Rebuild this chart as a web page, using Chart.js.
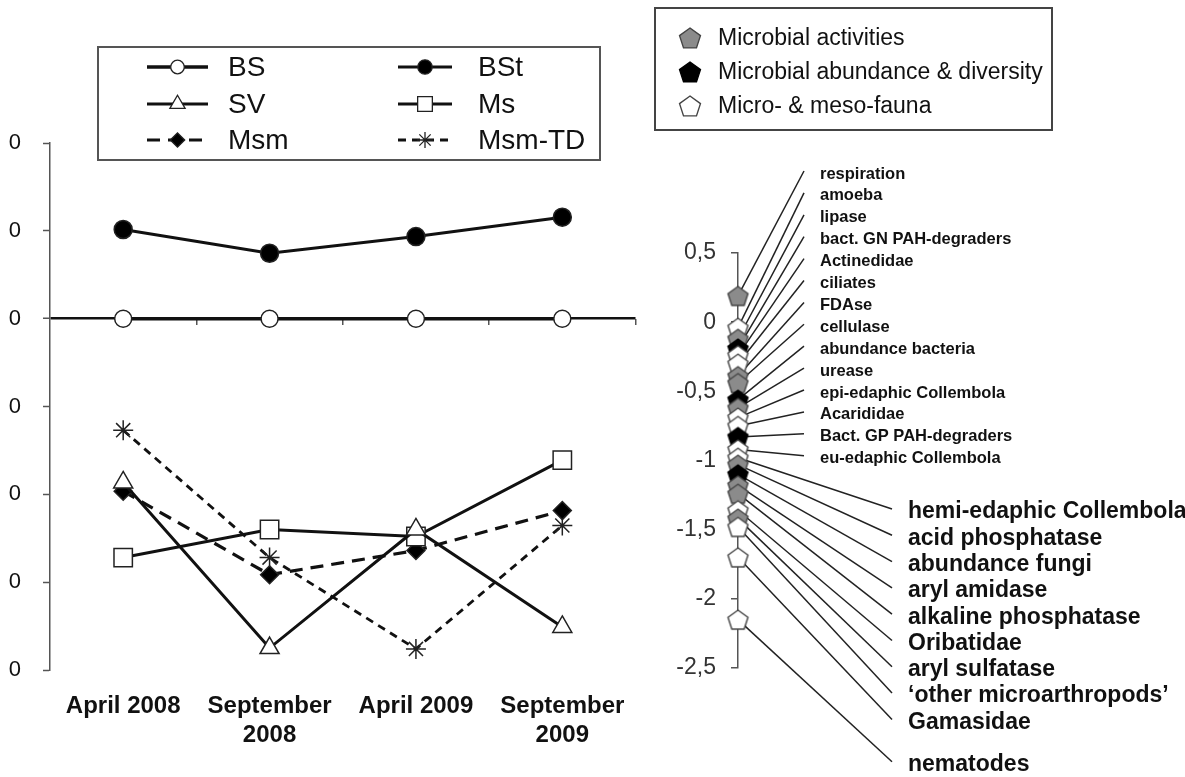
<!DOCTYPE html>
<html>
<head>
<meta charset="utf-8">
<script src="https://cdn.jsdelivr.net/npm/chart.js@4"></script>
<style>
html, body { margin: 0; padding: 0; background: #fff; }
#wrap { position: relative; width: 1185px; height: 777px; overflow: hidden; }
#left { position: absolute; left: 0; top: 0; }
#right { position: absolute; left: 650px; top: 0; }
</style>
</head>
<body>
<div id="wrap">
  <canvas id="left" width="650" height="777"></canvas>
  <canvas id="right" width="535" height="777"></canvas>
</div>
<script>
// left panel: sampling dates and the six treatments
const dates = [['April 2008'], ['September', '2008'], ['April 2009'], ['September', '2009']]
const valuesBS = [0, 0, 0, 0]
const valuesBSt = [20.3, 14.9, 18.7, 23.1]
const valuesSV = [-37.3, -75.0, -48.0, -70.2]
const valuesMs = [-54.4, -48.0, -49.6, -32.2]
const valuesMsm = [-39.3, -58.3, -52.8, -43.7]
const valuesMsmTD = [-25.4, -54.4, -75.2, -47.1]

// right panel: parameters, their value and their group
const groupNames = ['Microbial activities', 'Microbial abundance & diversity', 'Micro- & meso-fauna']
const itemLabels = [
    'respiration', 'amoeba', 'lipase', 'bact. GN PAH-degraders', 'Actinedidae', 'ciliates',
    'FDAse', 'cellulase', 'abundance bacteria', 'urease', 'epi-edaphic Collembola', 'Acarididae',
    'Bact. GP PAH-degraders', 'eu-edaphic Collembola', 'hemi-edaphic Collembola', 'acid phosphatase',
    'abundance fungi', 'aryl amidase', 'alkaline phosphatase', 'Oribatidae', 'aryl sulfatase',
    '\u2018other microarthropods\u2019', 'Gamasidae', 'nematodes'
]
const itemValues = [
    0.19, -0.04, -0.12, -0.19, -0.24, -0.30,
    -0.39, -0.44, -0.56, -0.62, -0.69, -0.75,
    -0.83, -0.92, -0.98, -1.03,
    -1.10, -1.18, -1.24, -1.36, -1.42,
    -1.48, -1.70, -2.15
]
const itemGroups = [
    0, 2, 0, 1, 2, 2,
    0, 0, 1, 0, 2, 2,
    1, 2, 2, 0,
    1, 0, 0, 2, 0,
    2, 2, 2
]

const FONT = 'Liberation Sans, Arial, sans-serif'
Chart.defaults.font.family = FONT
Chart.defaults.color = '#111'

function pentagon(fill, stroke, r) {
    const s = Math.ceil(r * 2 + 4)
    const c = document.createElement('canvas')
    c.width = s
    c.height = s
    const g = c.getContext('2d')
    g.beginPath()
    for (let k = 0; k < 5; k++) {
        const a = -Math.PI / 2 + k * 2 * Math.PI / 5
        const px = s / 2 + r * Math.cos(a)
        const py = s / 2 + 1 + r * Math.sin(a)
        if (k === 0) g.moveTo(px, py)
        else g.lineTo(px, py)
    }
    g.closePath()
    g.fillStyle = fill
    g.fill()
    g.lineWidth = 1.4
    g.strokeStyle = stroke
    g.stroke()
    return c
}
const pentagons = [pentagon('#8b8b8b', '#444', 10.5), pentagon('#000', '#000', 10.5), pentagon('#fff', '#444', 10.5)]
const legendPentagons = [pentagon('#8b8b8b', '#444', 11), pentagon('#000', '#000', 11), pentagon('#fff', '#444', 11)]

// ---------- left chart ----------
const leftLegend = {
    id: 'leftLegend',
    afterDraw(chart) {
        const ctx = chart.ctx
        ctx.save()
        ctx.strokeStyle = '#555'
        ctx.lineWidth = 2
        ctx.strokeRect(98, 47, 502, 113)
        const cols = [{ a: 147, b: 208, t: 228 }, { a: 398, b: 452, t: 478 }]
        const rows = [67, 104, 140]
        chart.data.datasets.forEach((ds, i) => {
            const c = cols[i % 2]
            const y = rows[Math.floor(i / 2)]
            ctx.beginPath()
            ctx.setLineDash(ds.borderDash || [])
            ctx.lineWidth = ds.borderWidth
            ctx.strokeStyle = '#111'
            ctx.moveTo(c.a, y)
            ctx.lineTo(c.b, y)
            ctx.stroke()
            ctx.setLineDash([])
            ctx.fillStyle = ds.pointBackgroundColor
            ctx.strokeStyle = '#222'
            ctx.lineWidth = 1.3
            Chart.helpers.drawPoint(ctx, {
                pointStyle: ds.pointStyle,
                radius: ds.pointRadius * 0.8,
                borderWidth: 1.3,
                rotation: 0
            }, (c.a + c.b) / 2, y)
            ctx.fillStyle = '#111'
            ctx.font = '28px ' + FONT
            ctx.textBaseline = 'middle'
            ctx.fillText(ds.label, c.t, y + 1)
        })
        ctx.restore()
    }
}

function series(label, data, style, radius, fill, dash, width) {
    return {
        label: label,
        data: data,
        borderColor: '#111',
        borderWidth: width,
        borderDash: dash,
        pointStyle: style,
        pointRadius: radius,
        pointHoverRadius: radius,
        pointBackgroundColor: fill,
        pointBorderColor: '#222',
        pointBorderWidth: 1.5,
        fill: false,
        tension: 0,
    }
}

new Chart(document.getElementById('left'), {
    type: 'line',
    data: {
        labels: dates,
        datasets: [
            series('BS', valuesBS, 'circle', 8.5, '#fff', [], 3.5),
            series('BSt', valuesBSt, 'circle', 9, '#000', [], 3),
            series('SV', valuesSV, 'triangle', 11, '#fff', [], 3),
            series('Ms', valuesMs, 'rect', 13, '#fff', [], 3),
            series('Msm', valuesMsm, 'rectRot', 9, '#000', [13, 8], 3.2),
            series('Msm-TD', valuesMsmTD, 'star', 10, '#fff', [8, 6], 2.8),
        ],
    },
    options: {
        responsive: false,
        animation: false,
        layout: { padding: { top: 143, right: 8, left: 0, bottom: 0 } },
        plugins: { legend: { display: false }, tooltip: { enabled: false } },
        scales: {
            x: {
                offset: true,
                grid: { display: false },
                border: { display: false },
                ticks: { font: { size: 24, weight: 'bold' }, color: '#111', padding: 14, maxRotation: 0 },
                afterFit: (scale) => { scale.height = 107 },
            },
            x2: {
                type: 'category',
                position: { y: 0 },
                offset: true,
                grid: {
                    offset: true,
                    drawOnChartArea: false,
                    tickLength: 6,
                    lineWidth: 1.5,
                    color: (c) => (c.index === 0 || c.index >= 4) ? 'rgba(0,0,0,0)' : '#555',
                },
                border: { display: false },
                ticks: { display: false },
            },
            y: {
                min: -80,
                max: 40,
                ticks: {
                    stepSize: 20,
                    padding: 22,
                    font: { size: 22 },
                    color: '#111',
                    callback: (v) => String(v).slice(-1),
                },
                grid: {
                    tickLength: 7,
                    tickColor: '#555',
                    tickWidth: 1.5,
                    color: (c) => c.tick && c.tick.value === 0 ? '#111' : 'rgba(0,0,0,0)',
                    lineWidth: (c) => c.tick && c.tick.value === 0 ? 2.5 : 1,
                },
                border: { display: true, color: '#555', width: 1.5 },
                afterFit: (scale) => { scale.width = 50 },
            },
        },
    },
    plugins: [leftLegend],
})

// ---------- right chart ----------
function labelPos(i) {
    if (i < 14) return { x: 170, y: 174 + i * 21.9, big: false }
    const k = i - 14
    return { x: 258, y: 512 + k * 26.3 + (k === 9 ? 16 : 0), big: true }
}

const rightDecor = {
    id: 'rightDecor',
    beforeDatasetsDraw(chart) {
        const ctx = chart.ctx
        const ys = chart.scales.y
        const xs = chart.scales.x
        ctx.save()
        ctx.strokeStyle = '#222'
        ctx.lineWidth = 1.5
        itemLabels.forEach((lab, i) => {
            const p = labelPos(i)
            ctx.beginPath()
            ctx.moveTo(xs.getPixelForValue(0), ys.getPixelForValue(itemValues[i]))
            ctx.lineTo(p.x - 16, p.y - 3)
            ctx.stroke()
        })
        ctx.restore()
    },
    afterDraw(chart) {
        const ctx = chart.ctx
        ctx.save()
        ctx.textBaseline = 'middle'
        ctx.fillStyle = '#111'
        itemLabels.forEach((lab, i) => {
            const p = labelPos(i)
            ctx.font = (p.big ? 'bold 23px ' : 'bold 16.5px ') + FONT
            ctx.fillText(lab, p.x, p.y)
        })
        // group legend
        ctx.strokeStyle = '#444'
        ctx.lineWidth = 2
        ctx.strokeRect(5, 8, 397, 122)
        groupNames.forEach((name, g) => {
            const y = 38 + g * 34
            const img = legendPentagons[g]
            ctx.drawImage(img, 40 - img.width / 2, y - img.height / 2)
            ctx.font = '23px ' + FONT
            ctx.fillStyle = '#111'
            ctx.fillText(name, 68, y + 1)
        })
        ctx.restore()
    }
}

new Chart(document.getElementById('right'), {
    type: 'scatter',
    data: {
        datasets: [{
            data: itemValues.map((v) => ({ x: 0, y: v })),
            pointStyle: itemGroups.map((g) => pentagons[g]),
            pointRadius: 10,
            clip: false,
        }],
    },
    options: {
        responsive: false,
        animation: false,
        layout: { padding: { top: 253, bottom: 109, right: 380, left: 0 } },
        plugins: { legend: { display: false }, tooltip: { enabled: false } },
        scales: {
            x: { display: false, min: 0, max: 1 },
            y: {
                min: -2.5,
                max: 0.5,
                ticks: {
                    stepSize: 0.5,
                    padding: 15,
                    font: { size: 23 },
                    color: '#333',
                    callback: (v) => String(v).replace('.', ','),
                },
                grid: { drawOnChartArea: false, tickLength: 7, color: '#555', lineWidth: 1.5 },
                border: { display: true, color: '#555', width: 1.5 },
                afterFit: (scale) => { scale.width = 88 },
            },
        },
    },
    plugins: [rightDecor],
})
</script>
</body>
</html>
